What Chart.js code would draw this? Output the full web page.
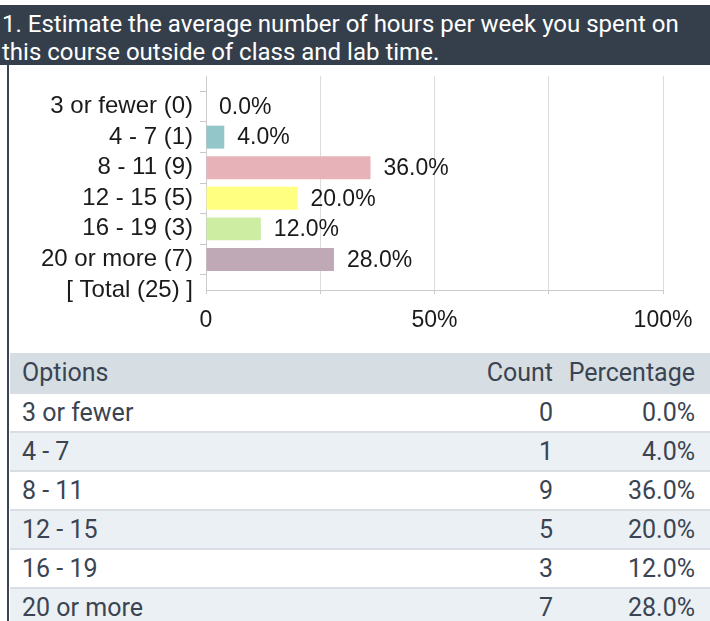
<!DOCTYPE html>
<html>
<head>
<meta charset="utf-8">
<script src="https://cdn.jsdelivr.net/npm/chart.js@4.4.1/dist/chart.umd.min.js"></script>
<style>
  html, body { margin: 0; padding: 0; background: #fff; }
  body { width: 710px; height: 621px; position: relative; overflow: hidden; font-family: Roboto, Arial, sans-serif; }
  #title {
    position: absolute; left: 0; top: 5px; width: 710px; height: 60px;
    background: #353f4c; color: #fff; font-size: 24px; line-height: 28px;
    padding: 5px 0 0 2px; box-sizing: border-box; white-space: nowrap;
  }
  #leftLine { position: absolute; left: 7px; top: 65px; width: 2px; height: 556px; background: #3b4553; }
  #chartWrap { position: absolute; left: 0; top: 66px; width: 710px; height: 284px; }
  #resultTable {
    position: absolute; left: 10px; top: 353px; width: 700px;
    border-collapse: collapse; table-layout: fixed; font-size: 25px; color: #3b4452;
  }
  #resultTable th, #resultTable td { height: 37px; padding: 0; font-weight: normal; white-space: nowrap; }
  #resultTable thead th { background: #d6dee3; height: 39px; }
  #resultTable tbody td { border-top: 2px solid #d8dee3; }
  #resultTable tbody tr:nth-child(even) td { background: #ebf0f4; }
  .opt { text-align: left; padding-left: 12px !important; }
  .num { text-align: right; }
  .pct { text-align: right; padding-right: 15px !important; }
</style>
</head>
<body>
<div id="title">1. Estimate the average number of hours per week you spent on<br>this course outside of class and lab time.</div>
<div id="leftLine"></div>
<div id="chartWrap"><canvas id="hoursChart" width="710" height="284"></canvas></div>
<table id="resultTable">
  <colgroup><col style="width:420px"><col style="width:123px"><col style="width:157px"></colgroup>
  <thead><tr><th class="opt">Options</th><th class="num">Count</th><th class="pct">Percentage</th></tr></thead>
  <tbody id="tableBody"></tbody>
</table>
<script>
const options = ["3 or fewer", "4 - 7", "8 - 11", "12 - 15", "16 - 19", "20 or more"];
const counts = [0, 1, 9, 5, 3, 7];
const percentages = [0.0, 4.0, 36.0, 20.0, 12.0, 28.0];
const total = 25;
const xTicks = [0, 50, 100];
const xTickLabels = ["0", "50%", "100%"];

const barColors = ["#93c6c9", "#93c6c9", "#e7b3b9", "#ffff80", "#cdeda2", "#bfa9b7"];

// first slot is left empty so the rows sit like in the original report
const yLabels = [""].concat(options.map((o, i) => `${o} (${counts[i]})`), [`[ Total (${total}) ]`]);
const values = [null].concat(percentages, [null]);
const colors = ["transparent"].concat(barColors, ["transparent"]);

Chart.defaults.font.family = 'Arial, "Liberation Sans", sans-serif';
Chart.defaults.font.size = 23;
Chart.defaults.color = "#1a1a1a";

const valueLabels = {
  id: "valueLabels",
  afterDatasetsDraw(chart) {
    const ctx = chart.ctx;
    const meta = chart.getDatasetMeta(0);
    ctx.save();
    ctx.font = '23px Arial, "Liberation Sans", sans-serif';
    ctx.fillStyle = "#1a1a1a";
    ctx.textAlign = "left";
    ctx.textBaseline = "middle";
    meta.data.forEach((bar, i) => {
      const v = values[i];
      if (v === null) return;
      ctx.fillText(v.toFixed(1) + "%", bar.x + 13, bar.y + 1);
    });
    ctx.restore();
  }
};

const ctx1 = document.getElementById("hoursChart").getContext("2d");
new Chart(ctx1, {
  type: "bar",
  data: {
    labels: yLabels,
    datasets: [{
      data: values,
      backgroundColor: colors,
      categoryPercentage: 1,
      barPercentage: 0.75
    }]
  },
  options: {
    indexAxis: "y",
    responsive: false,
    animation: false,
    devicePixelRatio: 1,
    layout: { padding: { top: 10, right: 47, left: 0, bottom: 0 } },
    plugins: { legend: { display: false }, tooltip: { enabled: false } },
    scales: {
      x: {
        min: 0,
        max: 100,
        afterFit: s => { s.height = 60; s.paddingLeft = 0; s.paddingRight = 0; },
        afterBuildTicks: s => { s.ticks = [0, 25, 50, 75, 100].map(v => ({ value: v })); },
        ticks: {
          autoSkip: false,
          maxRotation: 0,
          padding: 13,
          color: "#1a1a1a",
          callback: v => { const k = xTicks.indexOf(v); return k >= 0 ? xTickLabels[k] : ""; }
        },
        grid: { color: "#dcdcdc", tickLength: 4, tickColor: "#cccccc" },
        border: { color: "#cccccc" }
      },
      y: {
        offset: false,
        afterFit: s => { s.width = 206; s.paddingTop = 0; s.paddingBottom = 0; },
        ticks: { autoSkip: false, padding: 7, color: "#1a1a1a", font: { size: 24 } },
        grid: {
          drawOnChartArea: false,
          tickLength: 6,
          tickColor: c => (c.index === 0 ? "transparent" : "#c8c8c8")
        },
        border: { color: "#cccccc" }
      }
    }
  },
  plugins: [valueLabels]
});

const body = document.getElementById("tableBody");
options.forEach((o, i) => {
  const tr = document.createElement("tr");
  tr.innerHTML = `<td class="opt">${o}</td><td class="num">${counts[i]}</td><td class="pct">${percentages[i].toFixed(1)}%</td>`;
  body.appendChild(tr);
});
</script>
</body>
</html>
